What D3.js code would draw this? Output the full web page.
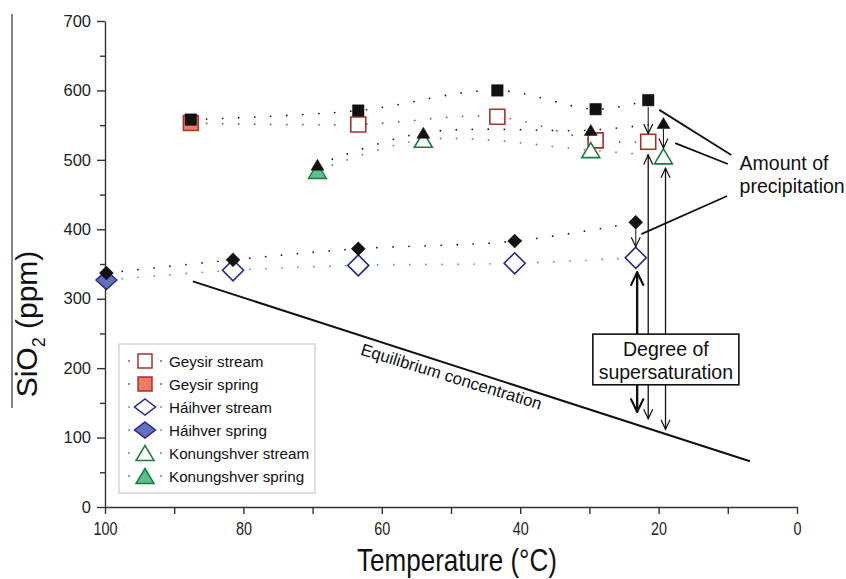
<!DOCTYPE html>
<html>
<head>
<meta charset="utf-8">
<script src="https://cdn.jsdelivr.net/npm/d3@7"></script>
<style>
  body { margin: 0; background: #fff; }
  svg { display: block; }
  text { font-family: "Liberation Sans", Arial, Helvetica, sans-serif; fill: #111; }
</style>
</head>
<body>
<svg id="chart" width="846" height="579"></svg>
<script>
// ---- Data: SiO2 (ppm) against temperature (°C) ----
const xTickValues = [100, 80, 60, 40, 20, 0];
const xMinorTicks = [90, 70, 50, 30, 10];
const yTickValues = [0, 100, 200, 300, 400, 500, 600, 700];
const yMinorTicks = [50, 150, 250, 350, 450, 550, 650];

// Geysir
const geysirSpringT = [87.6];
const geysirSpringSiO2 = [553];
const geysirStreamT = [63.4, 43.3, 29.1, 21.5];
const geysirStreamSiO2 = [551, 562, 528, 526];
const geysirTotalSiO2 = [558, 571, 600, 573, 586];   // spring + stream points

// Háihver
const haihverSpringT = [99.8];
const haihverSpringSiO2 = [327];
const haihverStreamT = [81.5, 63.4, 40.8, 23.3];
const haihverStreamSiO2 = [341, 348, 351, 359];
const haihverTotalSiO2 = [337, 356, 372, 383, 410];

// Konungshver
const konungSpringT = [69.3];
const konungSpringSiO2 = [484];
const konungStreamT = [54.0, 29.8, 19.3];
const konungStreamSiO2 = [529, 514, 505];
const konungTotalSiO2 = [493, 539, 543, 553];

// Equilibrium concentration line
const equilibriumT = [87.3, 6.8];
const equilibriumSiO2 = [325, 66];

// Amount of precipitation (short arrows, black marker -> stream marker)
const precipT = [21.5, 19.3, 23.3];
const precipFrom = [576, 545, 400];
const precipTo = [538, 517, 375];

// Degree of supersaturation (long double arrows)
const supersatT = [23.1, 21.5, 19.0];
const supersatTop = [338, 507, 488];
const supersatBottom = [137, 127, 112];
const supersatWidth = [2.4, 1.3, 1.3];

// ---- Setup ----
const svg = d3.select("#chart");
const x = d3.scaleLinear().domain([100, 0]).range([105, 797]);
const y = d3.scaleLinear().domain([0, 700]).range([507, 21]);

const axisColor = "#333";

// arrowhead markers
const defs = svg.append("defs");
function addMarker(id, len, half, sw) {
  defs.append("marker")
    .attr("id", id)
    .attr("markerUnits", "userSpaceOnUse")
    .attr("viewBox", `0 0 ${len + 2} ${half * 2 + 2}`)
    .attr("refX", len + 0.5).attr("refY", half + 1)
    .attr("markerWidth", len + 2).attr("markerHeight", half * 2 + 2)
    .attr("orient", "auto-start-reverse")
    .append("path")
    .attr("d", `M1,1 L${len + 0.5},${half + 1} L1,${half * 2 + 1}`)
    .attr("fill", "none").attr("stroke", "#111").attr("stroke-width", sw);
}
addMarker("arrowSmall", 10, 4.5, 1.2);
addMarker("arrowBig", 14, 6.5, 2.2);

// ---- Axes ----
const yAxis = svg.append("g").attr("transform", `translate(${x(100)},0)`)
  .call(d3.axisLeft(y).tickValues(yTickValues).tickSize(8).tickSizeOuter(0).tickPadding(6));
yAxis.selectAll("text").style("font-size", "16.5px").style("fill", "#222");
svg.append("g").attr("transform", `translate(${x(100)},0)`)
  .call(d3.axisLeft(y).tickValues(yMinorTicks).tickSize(5).tickFormat(""))
  .select(".domain").remove();

const xAxis = svg.append("g").attr("transform", `translate(0,${y(0)})`)
  .call(d3.axisBottom(x).tickValues(xTickValues).tickSize(7).tickSizeOuter(0).tickPadding(8));
xAxis.selectAll("text").style("font-size", "18px").style("fill", "#222")
  .attr("transform", "scale(0.8,1)");
svg.append("g").attr("transform", `translate(0,${y(0)})`)
  .call(d3.axisBottom(x).tickValues(xMinorTicks).tickSize(7).tickFormat(""))
  .select(".domain").remove();

svg.selectAll(".domain, .tick line").attr("stroke", axisColor).attr("stroke-width", 1.4);

// axis titles
svg.append("text")
  .attr("transform", `translate(457,571) scale(0.84,1)`)
  .attr("text-anchor", "middle")
  .style("font-size", "31px")
  .text("Temperature (°C)");

const yTitle = svg.append("text")
  .attr("transform", "translate(37,324) rotate(-90)")
  .attr("text-anchor", "middle")
  .style("font-size", "30px");
yTitle.append("tspan").text("SiO");
yTitle.append("tspan").attr("dy", 8).style("font-size", "18px").text("2");
yTitle.append("tspan").attr("dy", -8).text(" (ppm)");
svg.append("line").attr("x1", 12).attr("x2", 12).attr("y1", 14).attr("y2", 408)
  .attr("stroke", "#222").attr("stroke-width", 1.1);

// ---- Equilibrium line ----
const line = d3.line().x(d => x(d[0])).y(d => y(d[1]));
svg.append("path")
  .datum(d3.zip(equilibriumT, equilibriumSiO2))
  .attr("d", line)
  .attr("fill", "none").attr("stroke", "#111").attr("stroke-width", 2);

{
  const [x1, y1] = [x(equilibriumT[0]), y(equilibriumSiO2[0])];
  const [x2, y2] = [x(equilibriumT[1]), y(equilibriumSiO2[1])];
  const ang = Math.atan2(y2 - y1, x2 - x1) * 180 / Math.PI;
  const t = 0.47;
  const cx = x1 + (x2 - x1) * t, cy = y1 + (y2 - y1) * t;
  svg.append("text")
    .attr("transform", `translate(${cx},${cy}) rotate(${ang - 0.8})`)
    .attr("dy", 17)
    .attr("text-anchor", "middle")
    .style("font-size", "16.8px")
    .text("Equilibrium concentration");
}

// ---- Dotted connecting curves ----
const curve = d3.line().x(d => x(d[0])).y(d => y(d[1])).curve(d3.curveCatmullRom.alpha(0.5));
function dotted(T, V, color) {
  svg.append("path")
    .datum(d3.zip(T, V))
    .attr("d", curve)
    .attr("fill", "none")
    .attr("stroke", color)
    .attr("stroke-width", 1.8)
    .attr("stroke-linecap", "round")
    .attr("stroke-dasharray", "0 16");
}
const dotBlack = "#1a1a1a";
const geysirDot = "#c8372d", haihverDot = "#2f9fe0", konungDot = "#2f9a68";

const geysirT = geysirSpringT.concat(geysirStreamT);
const haihverT = haihverSpringT.concat(haihverStreamT);
const konungT = konungSpringT.concat(konungStreamT);

dotted(geysirT, geysirSpringSiO2.concat(geysirStreamSiO2), geysirDot);
dotted(geysirT, geysirTotalSiO2, dotBlack);
dotted(haihverT, haihverSpringSiO2.concat(haihverStreamSiO2), haihverDot);
dotted(haihverT, haihverTotalSiO2, dotBlack);
dotted(konungT, konungSpringSiO2.concat(konungStreamSiO2), konungDot);
dotted(konungT, konungTotalSiO2, dotBlack);

// ---- Marker shapes ----
function shapePath(shape, w, h) {
  if (shape === "square") return `M${-w/2},${-h/2}h${w}v${h}h${-w}Z`;
  if (shape === "diamond") return `M0,${-h/2}L${w/2},0L0,${h/2}L${-w/2},0Z`;
  if (shape === "triangle") return `M0,${-h/2}L${w/2},${h/2}L${-w/2},${h/2}Z`;
}
function markers(T, V, shape, w, h, fill, stroke, sw) {
  svg.append("g").selectAll("path")
    .data(d3.zip(T, V))
    .join("path")
    .attr("transform", d => `translate(${x(d[0])},${y(d[1])})`)
    .attr("d", shapePath(shape, w, h))
    .attr("fill", fill).attr("stroke", stroke).attr("stroke-width", sw);
}

const geysirDark = "#a8302d", geysirFill = "#ef7a66";
const haihverDark = "#26278a", haihverFill = "#6470bd";
const konungDark = "#1f7a42", konungFill = "#5cc08e";

// stream (open) and spring (filled) markers
markers(geysirStreamT, geysirStreamSiO2, "square", 15, 15, "#fff", geysirDark, 1.6);
markers(geysirSpringT, geysirSpringSiO2, "square", 15, 15, geysirFill, geysirDark, 1.4);
markers(haihverStreamT, haihverStreamSiO2, "diamond", 21, 21, "#fff", haihverDark, 1.6);
markers(haihverSpringT, haihverSpringSiO2, "diamond", 21, 19, haihverFill, haihverDark, 1.4);
markers(konungStreamT, konungStreamSiO2, "triangle", 18, 15, "#fff", konungDark, 1.6);
markers(konungSpringT, konungSpringSiO2, "triangle", 18, 15, konungFill, konungDark, 1.4);

// black markers
markers(geysirT, geysirTotalSiO2, "square", 11.5, 11.5, "#111", "#111", 0.5);
markers(haihverT, haihverTotalSiO2, "diamond", 14, 14, "#111", "#111", 0.5);
markers(konungT, konungTotalSiO2, "triangle", 13, 11, "#111", "#111", 0.5);

// ---- Amount of precipitation arrows ----
svg.append("g").selectAll("line")
  .data(d3.range(precipT.length))
  .join("line")
  .attr("x1", i => x(precipT[i])).attr("x2", i => x(precipT[i]))
  .attr("y1", i => y(precipFrom[i])).attr("y2", i => y(precipTo[i]))
  .attr("stroke", "#222").attr("stroke-width", 1.1)
  .attr("marker-end", "url(#arrowSmall)");

// ---- Degree of supersaturation arrows ----
svg.append("g").selectAll("line")
  .data(d3.range(supersatT.length))
  .join("line")
  .attr("x1", i => x(supersatT[i])).attr("x2", i => x(supersatT[i]))
  .attr("y1", i => y(supersatTop[i])).attr("y2", i => y(supersatBottom[i]))
  .attr("stroke", "#111").attr("stroke-width", i => supersatWidth[i])
  .attr("marker-start", i => supersatWidth[i] > 2 ? "url(#arrowBig)" : "url(#arrowSmall)")
  .attr("marker-end", i => supersatWidth[i] > 2 ? "url(#arrowBig)" : "url(#arrowSmall)");

// label box
{
  const bx = x(29.5), by = y(249), bw = x(8.4) - x(29.5), bh = y(176) - y(249);
  svg.append("rect").attr("x", bx).attr("y", by).attr("width", bw).attr("height", bh)
    .attr("fill", "#fff").attr("stroke", "#111").attr("stroke-width", 1.6);
  const t = svg.append("text").attr("text-anchor", "middle").style("font-size", "19.5px");
  t.append("tspan").attr("x", bx + bw / 2).attr("y", by + 22).text("Degree of");
  t.append("tspan").attr("x", bx + bw / 2).attr("y", by + 45).text("supersaturation");
}

// ---- Amount of precipitation label and leaders ----
const leaderFromT = [19.9, 17.6, 22.5], leaderFromV = [572, 524, 393];
const leaderToT = [9.5, 10.0, 10.1], leaderToV = [507, 494, 448];
svg.append("g").selectAll("line")
  .data(d3.range(leaderFromT.length))
  .join("line")
  .attr("x1", i => x(leaderFromT[i])).attr("y1", i => y(leaderFromV[i]))
  .attr("x2", i => x(leaderToT[i])).attr("y2", i => y(leaderToV[i]))
  .attr("stroke", "#111").attr("stroke-width", 1.8);
{
  const t = svg.append("text").style("font-size", "19.5px");
  t.append("tspan").attr("x", x(8.3)).attr("y", y(485)).text("Amount of");
  t.append("tspan").attr("x", x(8.3)).attr("y", y(485) + 23).text("precipitation");
}

// ---- Legend ----
const legendItems = [
  { label: "Geysir stream", shape: "square", w: 14, h: 14, fill: "#fff", stroke: geysirDark, dot: geysirDot },
  { label: "Geysir spring", shape: "square", w: 14, h: 14, fill: geysirFill, stroke: geysirDark, dot: geysirDot },
  { label: "Háihver stream", shape: "diamond", w: 21, h: 16, fill: "#fff", stroke: haihverDark, dot: haihverDot },
  { label: "Háihver spring", shape: "diamond", w: 21, h: 16, fill: haihverFill, stroke: haihverDark, dot: haihverDot },
  { label: "Konungshver stream", shape: "triangle", w: 18, h: 15, fill: "#fff", stroke: konungDark, dot: konungDot },
  { label: "Konungshver spring", shape: "triangle", w: 18, h: 15, fill: konungFill, stroke: konungDark, dot: konungDot }
];
const legend = svg.append("g").attr("transform", "translate(119,344)");
legend.append("rect").attr("width", 196).attr("height", 149)
  .attr("fill", "#fff").attr("stroke", "#bdbdbd").attr("stroke-width", 1);
const rows = legend.selectAll("g.row").data(legendItems).join("g")
  .attr("class", "row")
  .attr("transform", (d, i) => `translate(26,${17 + i * 23})`);
rows.selectAll("circle").data(d => [-16, 16].map(o => ({ o, c: d.dot }))).join("circle")
  .attr("cx", d => d.o).attr("cy", 0).attr("r", 0.9).attr("fill", d => d.c);
rows.append("path")
  .attr("d", d => shapePath(d.shape, d.w, d.h))
  .attr("fill", d => d.fill).attr("stroke", d => d.stroke).attr("stroke-width", 1.5);
rows.append("text").attr("x", 24).attr("y", 5.5)
  .style("font-size", "15.2px")
  .text(d => d.label);
</script>
</body>
</html>
